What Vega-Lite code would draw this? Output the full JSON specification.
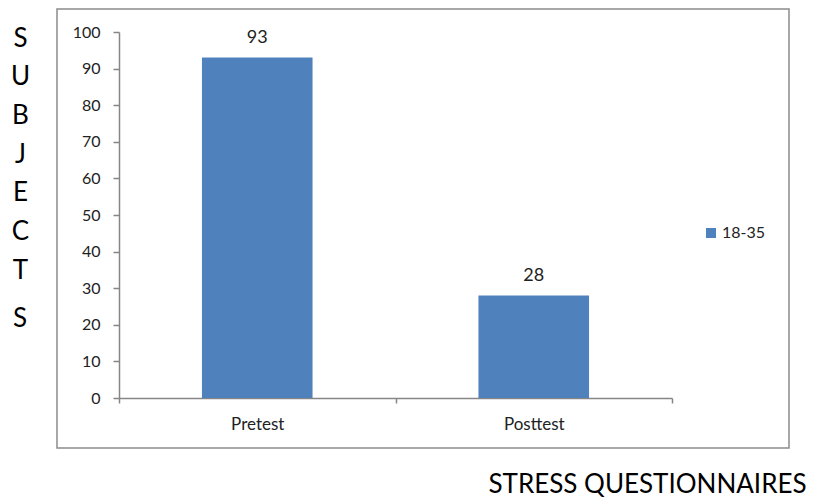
{
  "$schema": "https://vega.github.io/schema/vega-lite/v6.json",
  "autosize": {"type": "none"},
  "width": 732,
  "height": 439,
  "padding": {"left": 57, "top": 9, "right": 32, "bottom": 49},
  "background": "white",
  "config": {
    "font": "Lato",
    "view": {"stroke": "#8c8c8c", "strokeWidth": 1.5},
    "axis": {"grid": false, "domainColor": "#868686", "domainWidth": 1.5, "tickColor": "#868686", "tickWidth": 1.5, "labelColor": "#222222", "labelFont": "Lato", "titleFont": "Lato", "titleFontWeight": "normal", "titleColor": "#000000"}
  },
  "title": {
    "text": "S",
    "orient": "top",
    "anchor": "start",
    "frame": "group",
    "align": "center",
    "baseline": "top",
    "offset": 0,
    "dx": -37,
    "dy": 323,
    "font": "Lato",
    "fontSize": 26,
    "fontWeight": "normal",
    "color": "#000000"
  },
  "data": {
    "values": [
      {"test": "Pretest", "subjects": 93, "group": "18-35"},
      {"test": "Posttest", "subjects": 28, "group": "18-35"}
    ]
  },
  "encoding": {
    "x": {
      "field": "test",
      "type": "nominal",
      "sort": ["Pretest", "Posttest"],
      "scale": {"range": [62, 615], "paddingInner": 0, "paddingOuter": 0},
      "axis": {
        "orient": "bottom",
        "offset": -50,
        "labelAngle": 0,
        "labelFontSize": 17,
        "labelPadding": 13,
        "tickSize": 5,
        "tickBand": "extent",
        "title": "STRESS QUESTIONNAIRES",
        "titleFontSize": 26,
        "titleX": 590,
        "titleY": 94,
        "titleAlign": "center",
        "titleBaseline": "alphabetic"
      }
    },
    "y": {
      "field": "subjects",
      "type": "quantitative",
      "scale": {"domain": [0, 100], "range": [389, 23], "nice": false},
      "axis": {
        "offset": -62,
        "values": [0, 10, 20, 30, 40, 50, 60, 70, 80, 90, 100],
        "tickSize": 6,
        "labelFontSize": 16,
        "labelPadding": 13,
        "title": ["S", "U", "B", "J", "E", "C", "T"],
        "titleAngle": 0,
        "titleFontSize": 26,
        "titleLineHeight": 38.7,
        "titleAlign": "center",
        "titleBaseline": "top",
        "titleX": -99,
        "titleY": 16
      }
    }
  },
  "layer": [
    {
      "mark": {"type": "bar", "width": {"band": 0.4}},
      "encoding": {
        "color": {
          "field": "group",
          "type": "nominal",
          "scale": {"range": ["#4F81BD"]},
          "legend": {
            "title": null,
            "orient": "none",
            "legendX": 646,
            "legendY": 216,
            "padding": 0,
            "symbolType": "square",
            "symbolSize": 100,
            "symbolStrokeWidth": 0,
            "labelFontSize": 16,
            "labelFont": "Lato",
            "labelColor": "#222222",
            "labelOffset": 3
          }
        }
      }
    },
    {
      "mark": {"type": "text", "baseline": "alphabetic", "dy": -15, "fontSize": 18, "font": "Lato", "color": "#222222"},
      "encoding": {"text": {"field": "subjects", "type": "quantitative"}}
    }
  ]
}
